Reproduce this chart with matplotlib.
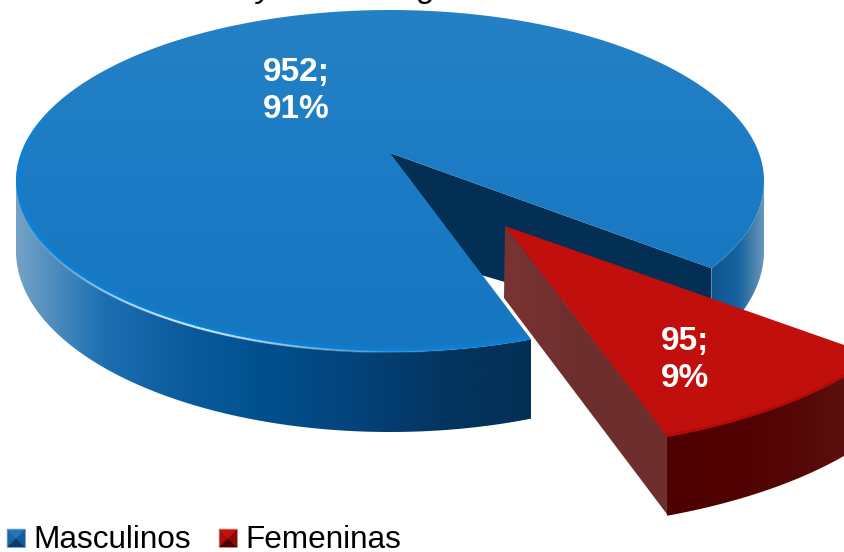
"""3D exploded pie, drawn by hand in pixel coordinates (no 3D pie in matplotlib)."""
import numpy as np
import matplotlib

matplotlib.use("Agg")
import matplotlib.pyplot as plt
from matplotlib.colors import LinearSegmentedColormap
from matplotlib.patches import Polygon

plt.rcParams["font.family"] = ["Liberation Sans", "DejaVu Sans"]

categories = ["Masculinos", "Femeninas"]
values = [952, 95]

W, H = 844, 552
CX, CY, RX, RY = 390, 181, 374, 171   # rim ellipse of the top face
PERSP = -0.164                        # moves the disc centre up in perspective
CUT_START = 38.5                      # where the red slice starts, degrees clockwise
RED_APEX = np.array([505.0, 226.0])
RED_SCALE = np.array([1.15, 1.125])   # red slice comes closer to the viewer


def disc(phi):
    """Angle on the disc (deg, clockwise on screen) -> rim pixel."""
    t = np.radians(phi)
    x, y = np.cos(t), np.sin(t)
    w = 1 + PERSP * y
    return np.column_stack([CX + RX * x * np.sqrt(1 - PERSP**2) / w,
                            CY + RY * (y + PERSP) / w])


APEX = np.array([CX, CY + RY * PERSP])


def to_red(p):
    return RED_APEX + (p - APEX) * RED_SCALE


def wall_depth(p, base=70, extra=10):
    return base + extra * (p[:, 1] - CY) / RY


def fill(ax, verts, stops, x0=None, x1=None, vertical=False, z=1):
    """Polygon filled with a linear gradient (image clipped to the polygon)."""
    verts = np.asarray(verts)
    cmap = LinearSegmentedColormap.from_list("g", stops)
    ramp = np.linspace(0, 1, 256)
    ramp = ramp[:, None] if vertical else ramp[None, :]
    x0 = verts[:, 0].min() if x0 is None else x0
    x1 = verts[:, 0].max() if x1 is None else x1
    y0, y1 = verts[:, 1].min(), verts[:, 1].max()
    im = ax.imshow(ramp, cmap=cmap, extent=(x0, x1, y1, y0), origin="upper",
                   aspect="auto", zorder=z, interpolation="bilinear")
    patch = Polygon(verts, closed=True, transform=ax.transData, fc="none", ec="none")
    ax.add_patch(patch)
    im.set_clip_path(patch)
    return patch


def wall(ax, rim, stops, z):
    low = rim + np.column_stack([np.zeros(len(rim)), wall_depth(rim)])
    fill(ax, np.vstack([rim, low[::-1]]), stops, z=z)


def pyramid(ax, x, y, s, top, left, right, bottom, edge):
    c = (x + s / 2, y + s / 2)
    a, b, d, e = (x, y), (x + s, y), (x + s, y + s), (x, y + s)
    for tri, col in (((a, b, c), top), ((a, e, c), left),
                     ((b, d, c), right), ((e, d, c), bottom)):
        ax.add_patch(Polygon(tri, fc=col, ec=col, lw=0.2, zorder=20))
    ax.add_patch(Polygon((a, b, d, e), fc="none", ec=edge, lw=0.6, zorder=21))


total = sum(values)
red_span = 360.0 * values[1] / total
cut_end = CUT_START + red_span

fig = plt.figure(figsize=(W / 100, H / 100), dpi=100)
ax = fig.add_axes([0, 0, 1, 1])

# Blue slice ---------------------------------------------------------------
blue_phi = np.linspace(cut_end, CUT_START + 360, 400)
blue_rim = disc(blue_phi)
blue_top = np.vstack([APEX, blue_rim])

cut_r = disc(np.array([CUT_START]))
inner = np.vstack([APEX, cut_r, cut_r + [0, 75], APEX + [0, 95]])
ax.add_patch(Polygon(inner, fc="#032f55", ec="none", zorder=2))

wall(ax, disc(np.linspace(9.5, CUT_START, 80)),
     ["#0f5590", "#17639f", "#6b98ba"], 3)
wall(ax, disc(np.linspace(cut_end, 170.5, 200)),
     ["#74a2c6", "#1c70b2", "#0b5a9c", "#004f8c", "#04427a", "#033560", "#032f55"], 3)

clip = fill(ax, blue_top, ["#2581c5", "#1b7bc4", "#1576c1"], vertical=True, z=4)

# Bevel along the front rim, with the bright glint on the lower left
front_phi = np.linspace(cut_end, 190, 160)
front = disc(front_phi)
band = ax.plot(*front.T, color="#0a84dc", lw=7, alpha=0.55, zorder=5)[0]
band.set_clip_path(clip)
glint = np.exp(-((front_phi - 118) / 22) ** 2)
for i in range(len(front) - 1):
    ax.plot(front[i:i + 2, 0], front[i:i + 2, 1], color="#d8f0ff",
            alpha=float(glint[i]) * 0.9, lw=1.6, zorder=6, solid_capstyle="butt")

# Red slice ----------------------------------------------------------------
red_phi = np.linspace(CUT_START, cut_end, 80)
red_rim = to_red(disc(red_phi))
low_corner = red_rim[-1]
face = np.vstack([RED_APEX, low_corner + [1, 0], low_corner + [1, 80], RED_APEX + [-1, 72]])
fill(ax, face, ["#7a3333", "#6d2e2e", "#702f2f"], z=7)
low_rim = red_rim + [0, 80]
fill(ax, np.vstack([red_rim, low_rim[::-1]]),
     ["#4e0000", "#500000", "#560808", "#5e1512"], x0=low_corner[0], x1=870, z=8)
fill(ax, np.vstack([RED_APEX, red_rim]), ["#c0100c", "#c20f0c"], z=9)
ax.plot(*red_rim.T, color="#b00b08", lw=2.0, zorder=10)

# Labels -------------------------------------------------------------------
label_xy = [(296, 91), (685, 360)]
for v, (x, y) in zip(values, label_xy):
    ax.text(x, y, f"{v};\n{round(100 * v / total)}%", color="white", fontsize=24,
            fontweight="bold", ha="center", va="center", linespacing=1.28, zorder=30)

# Title is cut off by the top of the picture: only two descenders remain ---
for ch, x in (("y", 265), ("g", 427)):
    ax.text(x, -3, ch, fontsize=24, fontstyle="italic", ha="center", va="baseline",
            color="black", clip_on=True, zorder=30)

# Legend -------------------------------------------------------------------
pyramid(ax, 7, 529, 18, "#1d78c0", "#1a66a8", "#155c98", "#0b3d6c", "#6a9cc4")
ax.text(33, 548.5, categories[0], fontsize=22.7, va="baseline", ha="left", color="black")
pyramid(ax, 219, 529, 18, "#d00c08", "#b00a08", "#8c0806", "#4f0000", "#b87a7a")
ax.text(245, 548.5, categories[1], fontsize=22.7, va="baseline", ha="left", color="black")

ax.set_xlim(0, W)
ax.set_ylim(H, 0)
ax.axis("off")
fig.savefig("out.png", dpi=100, facecolor="white")
